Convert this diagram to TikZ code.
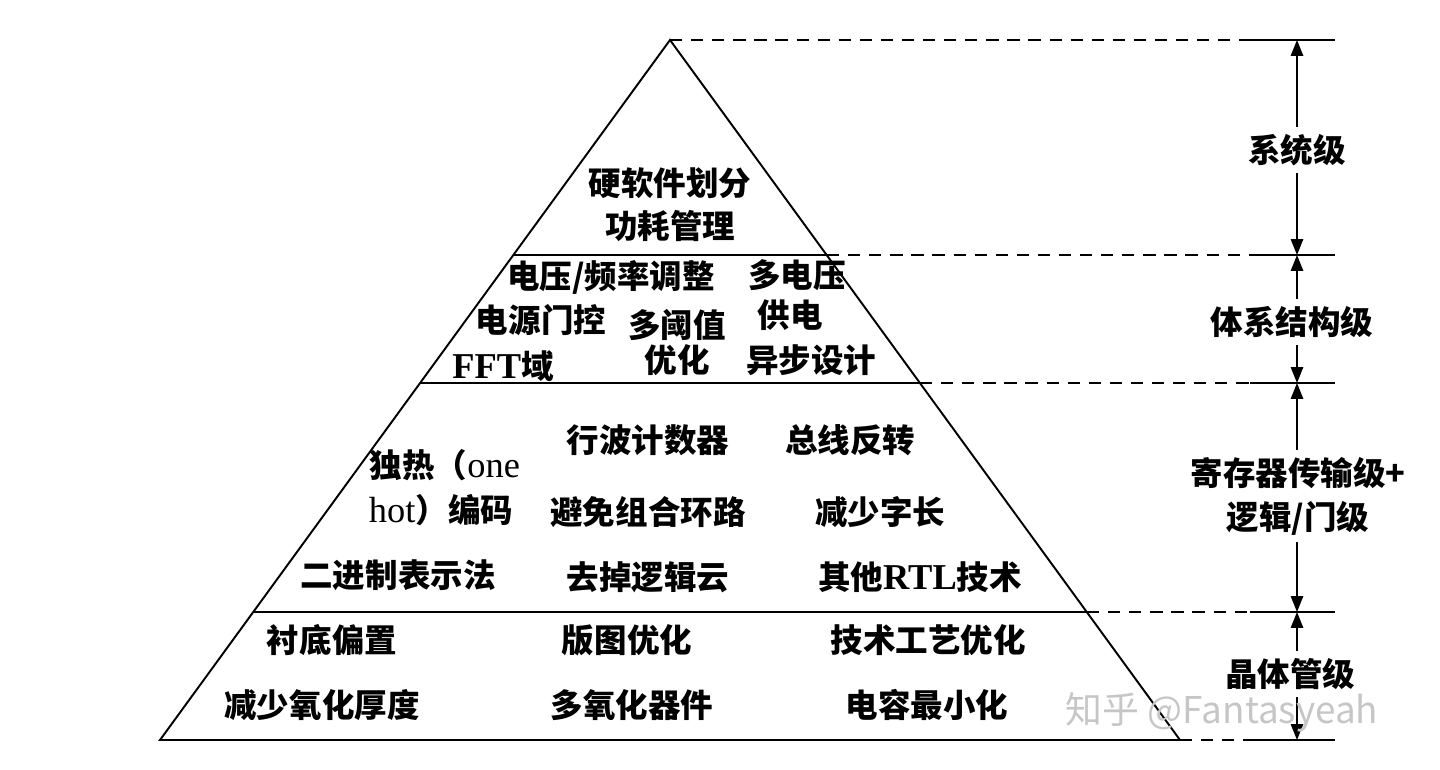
\documentclass[tikz,border=0pt]{standalone}
\usepackage{fontspec}
\setmainfont{Liberation Serif}[Scale=1.12]
\newfontfamily\cjk{Noto Sans CJK SC}
\usetikzlibrary{arrows.meta}
\newcommand{\lat}[1]{{\rmfamily #1}}

\begin{document}
\begin{tikzpicture}[
    x=0.02cm,y=-0.02cm,
    item/.style={font=\cjk\bfseries\fontsize{18.5}{22}\selectfont, inner sep=0pt},
    level/.style={font=\cjk\bfseries\fontsize{18.5}{25}\selectfont, fill=white,
      inner sep=4pt, align=center},
    edge/.style={line width=1.1pt},
    guide/.style={line width=0.9pt, dash pattern=on 7pt off 5pt},
    span/.style={line width=0.9pt, -{Triangle[length=9pt,width=7pt]}},
    wmark/.style={font=\cjk\fontsize{21}{25}\selectfont, text=gray!45}
  ]
    \useasboundingbox (0,0) rectangle (1440,770);

    % level borders and guides
    \foreach \y/\x [count=\i] in {40/670,255/827,383/920,612/1087,740/1180}{
      \coordinate (s\i) at (\x,\y);
      \coordinate (m\i) at (1250,\y);
      \coordinate (t\i) at (1297,\y);
      \coordinate (e\i) at (1335,\y);
      \draw[guide] (s\i) -- (m\i);
      \draw[edge] (m\i) -- (e\i);
    }
    \coordinate (b1) at (160,740);
    \coordinate (l2) at (513,255);
    \coordinate (l3) at (420,383);
    \coordinate (l4) at (253,612);

    \draw[edge] (s1) -- (b1) -- (s5) -- cycle;
    \draw[edge] (l2) -- (s2);
    \draw[edge] (l3) -- (s3);
    \draw[edge] (l4) -- (s4);

    % system
    \node[item] (hwsw) at (670,183) {硬软件划分};
    \node[item] (pwrm) at (670,226) {功耗管理};

    % architecture
    \node[item] (dvfs) at (611,277) {电压/频率调整};
    \node[item] (mvolt) at (797,275) {多电压};
    \node[item] (gate) at (541,320) {电源门控};
    \node[item] (mvt) at (677,325) {多阈值};
    \node[item] (supply) at (790,315) {供电};
    \node[item] (fft) at (503,366) {\lat{FFT}域};
    \node[item] (opt) at (677,360) {优化};
    \node[item] (async) at (811,360) {异步设计};

    % rtl + logic
    \node[item] (hot1) at (445,465) {独热（\lat{\mdseries one}};
    \node[item] (hot2) at (441,510) {\lat{\mdseries hot}）编码};
    \node[item] (ripple) at (648,440) {行波计数器};
    \node[item] (businv) at (850,440) {总线反转};
    \node[item] (loop) at (648,512) {避免组合环路};
    \node[item] (width) at (880,512) {减少字长};
    \node[item] (binary) at (398,575) {二进制表示法};
    \node[item] (cloud) at (648,577) {去掉逻辑云};
    \node[item] (rtl) at (920,577) {其他\lat{RTL}技术};

    % transistor
    \node[item] (bias) at (332,640) {衬底偏置};
    \node[item] (layout) at (627,640) {版图优化};
    \node[item] (proc) at (928,640) {技术工艺优化};
    \node[item] (oxide) at (322,705) {减少氧化厚度};
    \node[item] (multox) at (632,705) {多氧化器件};
    \node[item] (cap) at (927,705) {电容最小化};

    % levels
    \node[level] (sys) at (1297,150) {系统级};
    \node[level] (arch) at (1292,322) {体系结构级};
    \node[level] (reg) at (1298,496) {寄存器传输级+\\逻辑/门级};
    \node[level] (tran) at (1290,674) {晶体管级};

    \draw[span] (sys.north -| t1) -- (t1);
    \draw[span] (sys.south -| t1) -- (t2);
    \draw[span] (arch.north -| t1) -- (t2);
    \draw[span] (arch.south -| t1) -- (t3);
    \draw[span] (reg.north -| t1) -- (t3);
    \draw[span] (reg.south -| t1) -- (t4);
    \draw[span] (tran.north -| t1) -- (t4);
    \draw[span] (tran.south -| t1) -- (t5);

    \node[wmark] (zhihu) at (1222,712) {知乎 @Fantasyeah};
  \end{tikzpicture}
\end{document}
